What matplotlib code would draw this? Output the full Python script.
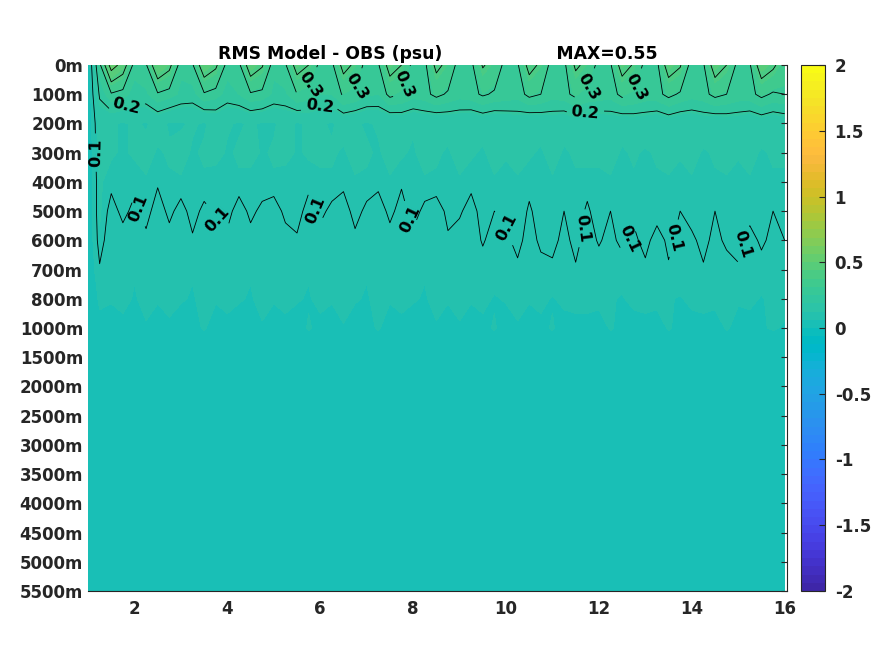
import numpy as np
import matplotlib
matplotlib.use('Agg')
import matplotlib.pyplot as plt
from matplotlib.colors import ListedColormap

# MATLAB parula, 64 colours
parula = [
    [0.2422, 0.1504, 0.6603], [0.2504, 0.1650, 0.7076], [0.2578, 0.1818, 0.7511], [0.2647, 0.1978, 0.7952],
    [0.2706, 0.2147, 0.8364], [0.2751, 0.2342, 0.8710], [0.2783, 0.2559, 0.8991], [0.2803, 0.2782, 0.9221],
    [0.2813, 0.3006, 0.9414], [0.2810, 0.3228, 0.9579], [0.2795, 0.3447, 0.9717], [0.2760, 0.3667, 0.9829],
    [0.2699, 0.3892, 0.9906], [0.2602, 0.4123, 0.9952], [0.2440, 0.4358, 0.9988], [0.2206, 0.4603, 0.9973],
    [0.1963, 0.4847, 0.9892], [0.1834, 0.5074, 0.9798], [0.1786, 0.5289, 0.9682], [0.1764, 0.5499, 0.9520],
    [0.1687, 0.5703, 0.9359], [0.1540, 0.5902, 0.9218], [0.1460, 0.6091, 0.9079], [0.1380, 0.6276, 0.8973],
    [0.1248, 0.6459, 0.8883], [0.1113, 0.6635, 0.8763], [0.0952, 0.6798, 0.8598], [0.0689, 0.6948, 0.8394],
    [0.0297, 0.7082, 0.8163], [0.0036, 0.7203, 0.7917], [0.0067, 0.7312, 0.7660], [0.0433, 0.7411, 0.7394],
    [0.0964, 0.7500, 0.7120], [0.1408, 0.7584, 0.6842], [0.1717, 0.7670, 0.6554], [0.1938, 0.7758, 0.6251],
    [0.2161, 0.7843, 0.5923], [0.2470, 0.7918, 0.5567], [0.2906, 0.7973, 0.5188], [0.3406, 0.8008, 0.4789],
    [0.3909, 0.8029, 0.4354], [0.4456, 0.8024, 0.3909], [0.5044, 0.7993, 0.3480], [0.5616, 0.7942, 0.3045],
    [0.6174, 0.7876, 0.2612], [0.6720, 0.7793, 0.2227], [0.7242, 0.7698, 0.1910], [0.7738, 0.7598, 0.1646],
    [0.8203, 0.7498, 0.1535], [0.8634, 0.7406, 0.1596], [0.9035, 0.7330, 0.1774], [0.9393, 0.7288, 0.2100],
    [0.9728, 0.7298, 0.2394], [0.9956, 0.7434, 0.2371], [0.9970, 0.7659, 0.2199], [0.9952, 0.7893, 0.2028],
    [0.9892, 0.8136, 0.1885], [0.9786, 0.8386, 0.1766], [0.9676, 0.8639, 0.1643], [0.9610, 0.8890, 0.1537],
    [0.9597, 0.9135, 0.1423], [0.9628, 0.9373, 0.1265], [0.9691, 0.9606, 0.1064], [0.9769, 0.9839, 0.0805]]

depth_labels = ['0m', '100m', '200m', '300m', '400m', '500m', '600m', '700m', '800m', '1000m',
                '1500m', '2000m', '2500m', '3000m', '3500m', '4000m', '4500m', '5000m', '5500m']

# time axis, quarter-year samples from 1 to 16
years = np.arange(1, 16.01, 0.25)

rms_0m = [0.02, 0.28, 0.55, 0.46,
          0.27, 0.29, 0.50, 0.43,  0.26, 0.29, 0.48, 0.42,  0.27, 0.28, 0.47, 0.41,
          0.26, 0.29, 0.45, 0.40,  0.27, 0.28, 0.44, 0.38,  0.26, 0.29, 0.45, 0.40,
          0.27, 0.28, 0.43, 0.37,  0.26, 0.28, 0.41, 0.36,  0.27, 0.29, 0.44, 0.38,
          0.26, 0.28, 0.42, 0.37,  0.27, 0.29, 0.45, 0.39,  0.27, 0.28, 0.46, 0.41,
          0.26, 0.29, 0.46, 0.40,  0.27, 0.29, 0.47, 0.42,
          0.34]
rms_100m = [0.02, 0.21, 0.29, 0.27,
            0.23, 0.24, 0.29, 0.27,  0.24, 0.23, 0.29, 0.27,  0.23, 0.25, 0.29, 0.28,
            0.24, 0.24, 0.30, 0.28,  0.25, 0.25, 0.31, 0.29,  0.26, 0.25, 0.32, 0.30,
            0.27, 0.28, 0.32, 0.29,  0.27, 0.28, 0.31, 0.29,  0.28, 0.27, 0.32, 0.30,
            0.27, 0.28, 0.32, 0.29,  0.28, 0.27, 0.32, 0.30,  0.28, 0.28, 0.32, 0.29,
            0.27, 0.28, 0.32, 0.30,  0.28, 0.28, 0.32, 0.29,
            0.30]
rms_200m = [0.02, 0.15, 0.13, 0.12,
            0.13, 0.12, 0.14, 0.12,  0.12, 0.13, 0.12, 0.14,  0.13, 0.12, 0.13, 0.12,
            0.12, 0.14, 0.12, 0.13,  0.13, 0.12, 0.14, 0.13,  0.12, 0.13, 0.13, 0.14,
            0.13, 0.14, 0.13, 0.14,  0.14, 0.13, 0.14, 0.13,  0.14, 0.15, 0.13, 0.14,
            0.15, 0.14, 0.15, 0.14,  0.14, 0.15, 0.14, 0.15,  0.15, 0.14, 0.15, 0.14,
            0.14, 0.15, 0.14, 0.15,  0.15, 0.14, 0.15, 0.14,
            0.15]
rms_300m = [0.02, 0.14, 0.13, 0.12,
            0.13, 0.14, 0.12, 0.13,  0.14, 0.12, 0.13, 0.14,  0.12, 0.13, 0.14, 0.12,
            0.13, 0.14, 0.12, 0.13,  0.14, 0.13, 0.12, 0.14,  0.13, 0.12, 0.14, 0.13,
            0.12, 0.14, 0.13, 0.12,  0.14, 0.13, 0.12, 0.14,  0.13, 0.14, 0.13, 0.12,
            0.14, 0.12, 0.13, 0.14,  0.13, 0.14, 0.12, 0.13,  0.12, 0.13, 0.14, 0.13,
            0.14, 0.12, 0.13, 0.14,  0.13, 0.14, 0.12, 0.13,
            0.13]
rms_400m = [0.02, 0.13, 0.11, 0.12,
            0.11, 0.12, 0.105, 0.12,  0.12, 0.11, 0.12, 0.105,  0.11, 0.12, 0.11, 0.12,
            0.12, 0.105, 0.12, 0.11,  0.11, 0.12, 0.11, 0.12,  0.12, 0.11, 0.12, 0.105,
            0.11, 0.12, 0.12, 0.11,  0.12, 0.11, 0.12, 0.12,  0.11, 0.12, 0.11, 0.12,
            0.12, 0.11, 0.12, 0.11,  0.12, 0.12, 0.11, 0.12,  0.11, 0.12, 0.12, 0.11,
            0.12, 0.11, 0.12, 0.12,  0.11, 0.12, 0.11, 0.12,
            0.12]
rms_500m = [0.02, 0.13, 0.085, 0.11,
            0.09, 0.115, 0.08, 0.11,  0.085, 0.115, 0.09, 0.105,  0.115, 0.08, 0.11, 0.09,
            0.08, 0.11, 0.115, 0.085,  0.11, 0.09, 0.08, 0.115,  0.09, 0.08, 0.11, 0.085,
            0.115, 0.09, 0.08, 0.11,  0.105, 0.085, 0.115, 0.10,  0.11, 0.12, 0.095, 0.115,
            0.12, 0.10, 0.115, 0.095,  0.115, 0.10, 0.12, 0.11,  0.10, 0.12, 0.11, 0.10,
            0.12, 0.105, 0.10, 0.12,  0.11, 0.12, 0.105, 0.10,
            0.11]
rms_600m = [0.02, 0.12, 0.07, 0.085,
            0.075, 0.09, 0.07, 0.085,  0.08, 0.095, 0.075, 0.08,  0.09, 0.07, 0.085, 0.075,
            0.07, 0.085, 0.095, 0.07,  0.085, 0.075, 0.07, 0.09,  0.075, 0.07, 0.085, 0.07,
            0.09, 0.075, 0.07, 0.095,  0.085, 0.075, 0.105, 0.08,  0.09, 0.115, 0.08, 0.11,
            0.115, 0.085, 0.115, 0.08,  0.105, 0.085, 0.115, 0.09,  0.115, 0.08, 0.11, 0.085,
            0.09, 0.115, 0.085, 0.11,  0.115, 0.08, 0.11, 0.085,
            0.10]
rms_700m = [0.02, 0.095, 0.065, 0.07,
            0.065, 0.07, 0.075, 0.065,  0.07, 0.065, 0.07, 0.075,  0.065, 0.075, 0.065, 0.07,
            0.07, 0.065, 0.075, 0.065,  0.075, 0.07, 0.065, 0.07,  0.065, 0.075, 0.07, 0.065,
            0.07, 0.065, 0.075, 0.07,  0.075, 0.07, 0.08, 0.075,  0.08, 0.09, 0.075, 0.085,
            0.09, 0.075, 0.095, 0.08,  0.08, 0.09, 0.075, 0.095,  0.09, 0.08, 0.095, 0.085,
            0.08, 0.095, 0.085, 0.08,  0.095, 0.085, 0.08, 0.09,
            0.09]
rms_800m = [0.02, 0.07, 0.065, 0.07,
            0.06, 0.07, 0.065, 0.075,  0.065, 0.06, 0.07, 0.065,  0.07, 0.065, 0.06, 0.07,
            0.065, 0.07, 0.065, 0.06,  0.07, 0.065, 0.075, 0.065,  0.06, 0.07, 0.065, 0.07,
            0.065, 0.06, 0.07, 0.065,  0.07, 0.065, 0.07, 0.06,  0.065, 0.07, 0.065, 0.07,
            0.06, 0.07, 0.065, 0.07,  0.07, 0.065, 0.06, 0.07,  0.065, 0.07, 0.065, 0.06,
            0.07, 0.065, 0.07, 0.065,  0.065, 0.07, 0.06, 0.07,
            0.07]
rms_1000m = [0.02, 0.05, 0.05, 0.055,
             0.05, 0.06, 0.05, 0.055,  0.05, 0.055, 0.065, 0.05,  0.055, 0.05, 0.055, 0.06,
             0.05, 0.055, 0.05, 0.065,  0.055, 0.05, 0.06, 0.05,  0.055, 0.065, 0.05, 0.055,
             0.05, 0.055, 0.06, 0.05,  0.06, 0.05, 0.055, 0.065,  0.05, 0.06, 0.05, 0.055,
             0.065, 0.05, 0.06, 0.055,  0.05, 0.065, 0.055, 0.05,  0.06, 0.05, 0.065, 0.055,
             0.05, 0.06, 0.05, 0.065,  0.055, 0.05, 0.06, 0.065,
             0.06]
# 1500m ... 5500m, nearly uniform in time
rms_deep = [0.035, 0.03, 0.025, 0.02, 0.02, 0.015, 0.015, 0.01, 0.01]

upper = np.array([rms_0m, rms_100m, rms_200m, rms_300m, rms_400m,
                  rms_500m, rms_600m, rms_700m, rms_800m, rms_1000m])
deep = np.array(rms_deep)[:, None] * np.ones(len(years))
Z = np.vstack([upper, deep])
depth_idx = np.arange(len(depth_labels))
X, Y = np.meshgrid(years, depth_idx)

dark = '#262626'
plt.rcParams['font.family'] = 'DejaVu Sans'
plt.rcParams['font.weight'] = 'bold'

fig = plt.figure(figsize=(8.75, 6.56), dpi=100)
ax = fig.add_axes([0.1006, 0.0991, 0.7988, 0.8018])
cax = fig.add_axes([0.9154, 0.0991, 0.0274, 0.8018])

cmap = ListedColormap(parula)
cf = ax.contourf(X, Y, Z, levels=np.linspace(-2, 2, 65), cmap=cmap, vmin=-2, vmax=2)
cs = ax.contour(X, Y, Z, levels=[0.1, 0.2, 0.3, 0.4, 0.5], colors='k', linewidths=0.6)

label_pos = [(1.8, 1.3), (6.0, 1.5), (11.7, 1.6),
             (5.8, 0.7), (6.8, 0.75), (7.8, 0.65), (11.7, 0.7), (12.7, 0.7),
             (1.1, 3.0), (2.1, 4.9), (3.9, 5.1), (6.0, 4.9), (7.9, 5.3), (9.9, 5.6),
             (11.7, 5.6), (12.6, 5.9), (13.8, 6.0), (15.0, 6.1)]
lbls = ax.clabel(cs, levels=[0.1, 0.2, 0.3], manual=label_pos, inline=True, fontsize=11.5, fmt='%.1f')
for t in lbls:
    t.set_fontweight('bold')

ax.set_xlim(1, 16.05)
ax.set_ylim(len(depth_labels) - 1, 0)
ax.set_yticks(depth_idx)
ax.set_yticklabels(depth_labels)
ax.set_xticks([2, 4, 6, 8, 10, 12, 14, 16])
ax.tick_params(axis='y', left=False, right=True, direction='in', length=4, colors=dark, labelsize=12)
ax.tick_params(axis='x', bottom=False, colors=dark, labelsize=12, pad=3)
for t in ax.get_xticklabels() + ax.get_yticklabels():
    t.set_fontweight('bold')
ax.spines['left'].set_visible(False)
ax.spines['top'].set_visible(False)
ax.spines['bottom'].set_color(dark)
ax.spines['right'].set_color(dark)

ax.set_title('RMS Model - OBS (psu)' + ' ' * 19 + 'MAX=0.55', fontsize=12.4,
             fontweight='bold', color='k', pad=4)

cb = fig.colorbar(cf, cax=cax, ticks=np.arange(-2, 2.01, 0.5))
cb.ax.set_yticklabels(['-2', '-1.5', '-1', '-0.5', '0', '0.5', '1', '1.5', '2'])
cb.ax.tick_params(direction='in', length=4, colors=dark, labelsize=12, pad=7)
for t in cb.ax.get_yticklabels():
    t.set_fontweight('bold')
cb.outline.set_edgecolor(dark)
cb.outline.set_linewidth(0.8)

fig.savefig('out.png', dpi=100)
